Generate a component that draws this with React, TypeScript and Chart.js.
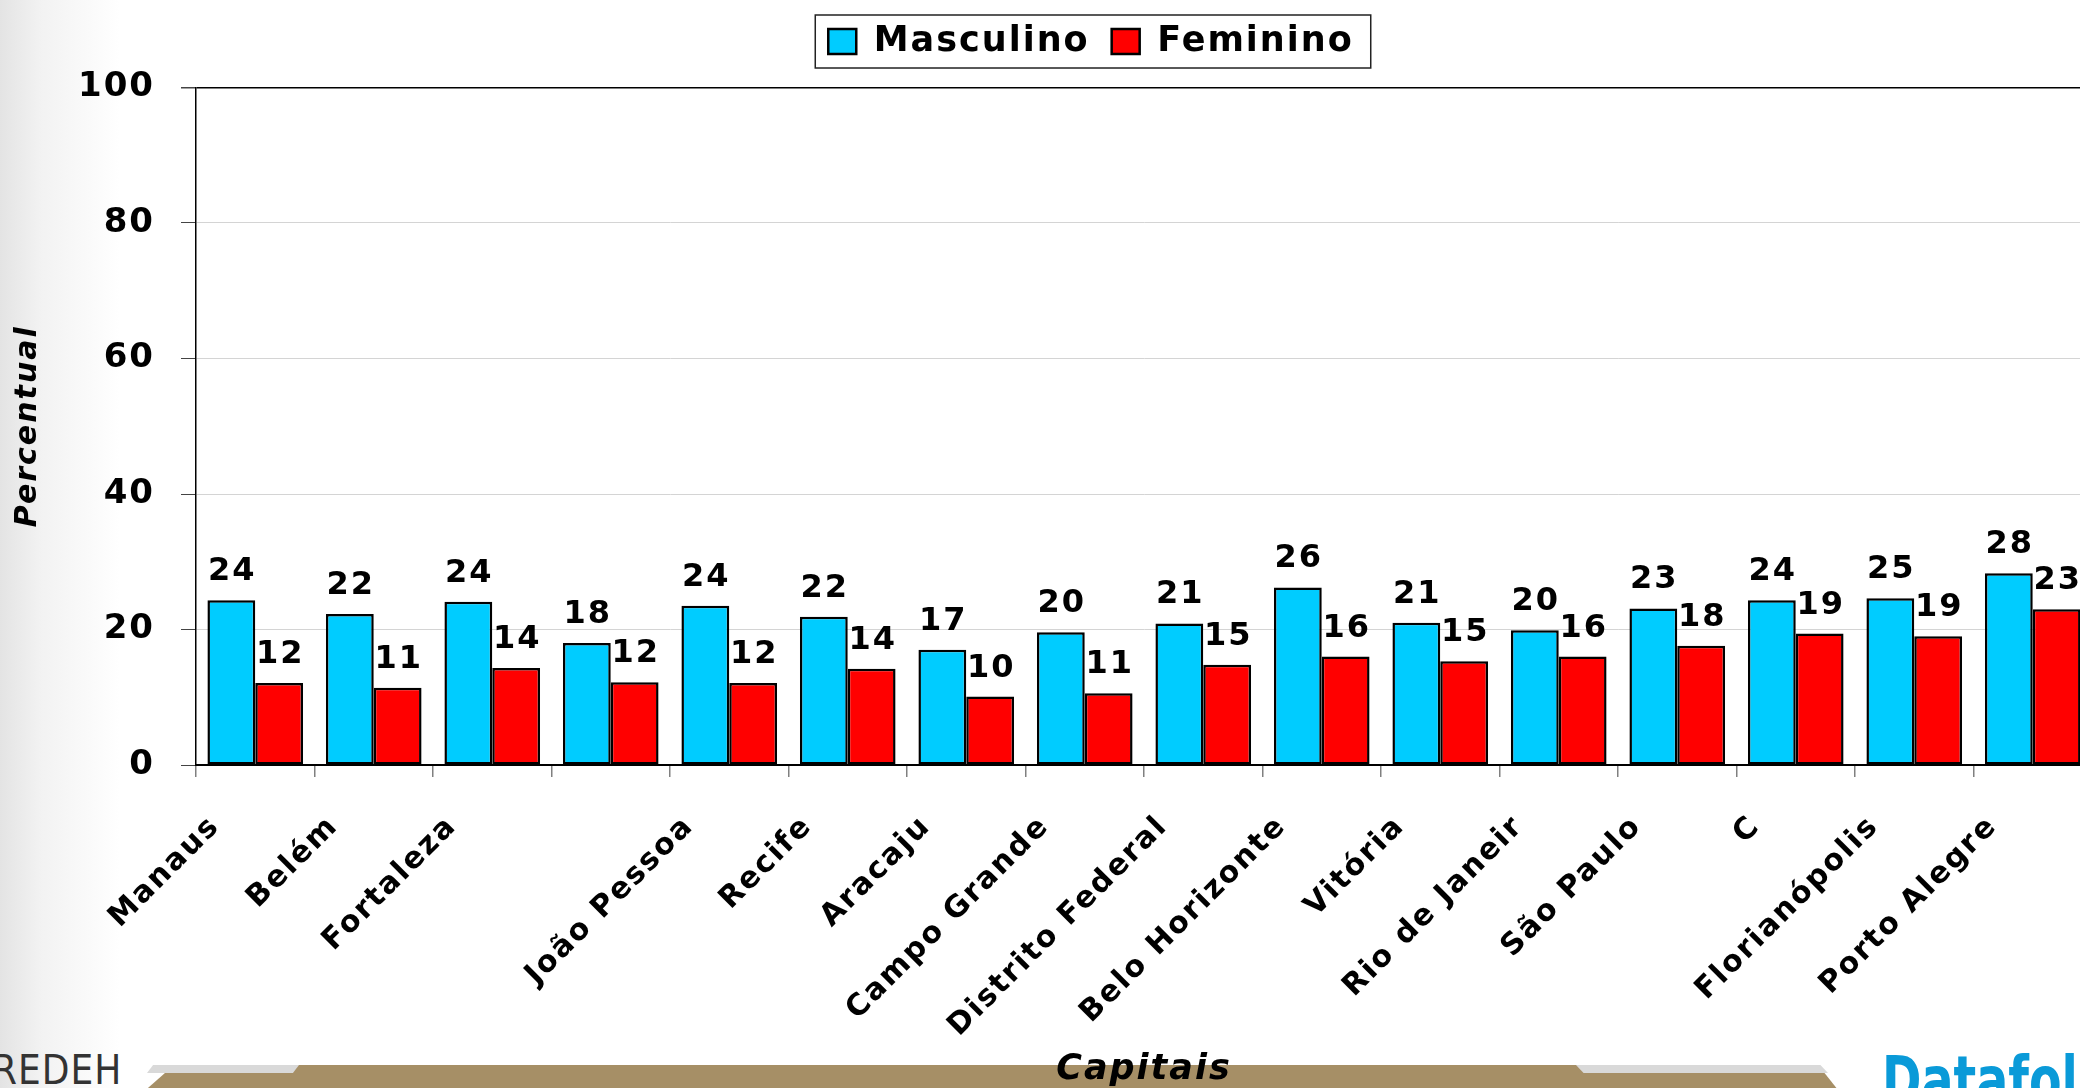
import React, { useEffect, useRef } from "react";
import { Chart, registerables } from "chart.js";

Chart.register(...registerables);

// ---- data ----
const categories = [
  "Manaus",
  "Belém",
  "Fortaleza",
  "",
  "João Pessoa",
  "Recife",
  "Aracaju",
  "Campo Grande",
  "Distrito Federal",
  "Belo Horizonte",
  "Vitória",
  "Rio de Janeir",
  "São Paulo",
  "C",
  "Florianópolis",
  "Porto Alegre",
];
const masculino = [24.3, 22.3, 24.1, 18.0, 23.5, 21.9, 17.0, 19.6, 20.9, 26.2, 21.0, 19.9, 23.1, 24.3, 24.6, 28.3];
const feminino = [12.1, 11.4, 14.3, 12.2, 12.1, 14.2, 10.1, 10.6, 14.8, 16.0, 15.3, 16.0, 17.6, 19.4, 19.0, 23.0];
const seriesNames = ["Masculino", "Feminino"];
const yMin = 0;
const yMax = 100;
const yStep = 20;
const yTitle = "Percentual";
const xTitle = "Capitais";

const FONT = '"DejaVu Sans", Verdana, sans-serif';
const CANVAS_W = 2110;
const CANVAS_H = 1092;

const spacingPlugin = {
  id: "spacing",
  beforeUpdate(chart: any) {
    chart.ctx.letterSpacing = "2px";
  },
  afterLayout(chart: any) {
    const lg = chart.legend;
    if (lg) {
      lg.left += 10;
      lg.right += 10;
    }
  },
  beforeDraw(chart: any) {
    chart.ctx.letterSpacing = "2px";
  },
};

const valueLabels = {
  id: "valueLabels",
  afterDatasetsDraw(chart: any) {
    const ctx = chart.ctx;
    ctx.save();
    ctx.letterSpacing = "2px";
    ctx.font = `bold 32px ${FONT}`;
    ctx.fillStyle = "#000";
    ctx.textAlign = "center";
    ctx.textBaseline = "alphabetic";
    chart.data.datasets.forEach((ds: any, i: number) => {
      const meta = chart.getDatasetMeta(i);
      meta.data.forEach((el: any, j: number) => {
        const v = ds.data[j] as number;
        ctx.fillText(String(Math.round(v)), el.x + 1, el.y - 20);
      });
    });
    ctx.restore();
  },
};

const legendBorder = {
  id: "legendBorder",
  afterDraw(chart: any) {
    const lg = chart.legend;
    if (!lg || !lg.legendHitBoxes || !lg.legendHitBoxes.length) return;
    const boxes = lg.legendHitBoxes;
    const minX = Math.min(...boxes.map((b: any) => b.left));
    const maxX = Math.max(...boxes.map((b: any) => b.left + b.width));
    const cy = boxes[0].top + boxes[0].height / 2;
    const ctx = chart.ctx;
    ctx.save();
    ctx.strokeStyle = "#222";
    ctx.lineWidth = 1.5;
    ctx.strokeRect(minX - 13, cy - 26.5, maxX - minX + 13 + 17, 53);
    ctx.restore();
  },
};

function BarChart() {
  const ref = useRef<HTMLCanvasElement | null>(null);
  useEffect(() => {
    if (!ref.current) return;
    const chart = new Chart(ref.current, {
      type: "bar",
      data: {
        labels: categories,
        datasets: [
          {
            label: seriesNames[0],
            data: masculino,
            backgroundColor: "#00CCFF",
            borderColor: "#000",
            borderWidth: 2.5,
            borderSkipped: false,
            categoryPercentage: 0.807,
            barPercentage: 1.0,
          },
          {
            label: seriesNames[1],
            data: feminino,
            backgroundColor: "#FF0000",
            borderColor: "#000",
            borderWidth: 2.5,
            borderSkipped: false,
            categoryPercentage: 0.807,
            barPercentage: 1.0,
          },
        ],
      },
      options: {
        responsive: false,
        maintainAspectRatio: false,
        devicePixelRatio: 1,
        animation: false,
        events: [],
        layout: { padding: { left: 70, right: 18, top: 2, bottom: 0 } },
        plugins: {
          tooltip: { enabled: false },
          legend: {
            display: true,
            position: "top",
            labels: {
              color: "#000",
              font: { family: FONT, size: 35, weight: "bold" },
              boxWidth: 28,
              boxHeight: 25,
              padding: 22,
            },
          },
          title: {
            display: true,
            text: " ",
            weight: 500,
            font: { size: 1, lineHeight: 1 },
            padding: { top: 0, bottom: 17.5 },
          } as any,
        },
        scales: {
          x: {
            offset: true,
            grid: {
              display: true,
              drawOnChartArea: false,
              drawTicks: true,
              tickLength: 12,
              tickColor: "#808080",
              offset: true,
              lineWidth: 1.5,
            },
            border: { display: true, color: "#000", width: 2 },
            ticks: {
              autoSkip: false,
              maxRotation: 45,
              minRotation: 45,
              labelOffset: -40,
              padding: 32,
              color: "#000",
              font: { family: FONT, size: 30, weight: "bold" },
            },
            title: {
              display: true,
              text: xTitle,
              color: "#000",
              font: { family: FONT, size: 35, weight: "bold", style: "italic" },
              padding: { top: 0, bottom: 1 },
            },
            afterFit: (s: any) => {
              s.height = CANVAS_H - 765;
            },
          },
          y: {
            min: yMin,
            max: yMax,
            ticks: {
              stepSize: yStep,
              color: "#000",
              padding: 26,
              font: { family: FONT, size: 34, weight: "bold" },
            },
            grid: {
              color: (c: any) =>
                c.tick && (c.tick.value === yMax || c.tick.value === yMin) ? "#000" : "#d4d4d4",
              lineWidth: (c: any) => (c.tick && c.tick.value === yMax ? 1.5 : 1),
              tickColor: "#444",
              tickLength: 15,
              drawTicks: true,
            },
            border: { display: true, color: "#000", width: 1.5 },
            title: {
              display: true,
              text: yTitle,
              color: "#000",
              font: { family: FONT, size: 30, weight: "bold", style: "italic" },
              padding: { top: -60, bottom: 0 },
            },
            afterFit: (s: any) => {
              s.width = 126;
            },
          },
        },
      } as any,
      plugins: [spacingPlugin, valueLabels, legendBorder],
    });
    return () => chart.destroy();
  }, []);

  return (
    <canvas
      ref={ref}
      width={CANVAS_W}
      height={CANVAS_H}
      style={{ position: "absolute", left: 0, top: 0, width: CANVAS_W, height: CANVAS_H }}
    />
  );
}

export default function App() {
  return (
    <div
      style={{
        position: "fixed",
        left: 0,
        top: 0,
        width: 2080,
        height: 1088,
        overflow: "hidden",
        background: "#fff",
      }}
    >
      {/* left curtain shading */}
      <div
        style={{
          position: "absolute",
          left: 0,
          top: 0,
          width: 120,
          height: 1088,
          background:
            "linear-gradient(to right, rgba(205,205,205,0.55) 0%, rgba(230,230,230,0.5) 35%, rgba(255,255,255,0) 100%)",
        }}
      />
      {/* bottom band */}
      <div
        style={{
          position: "absolute",
          left: 140,
          top: 1065,
          width: 1702,
          height: 30,
          background: "#a68f66",
          clipPath: "polygon(2% 0, 98.6% 0, 100% 100%, 0 100%)",
        }}
      />
      <div
        style={{
          position: "absolute",
          left: 147,
          top: 1065,
          width: 152,
          height: 8,
          background: "#d9d9d9",
          clipPath: "polygon(4% 0, 100% 0, 96% 100%, 0 100%)",
        }}
      />
      <div
        style={{
          position: "absolute",
          left: 1576,
          top: 1065,
          width: 252,
          height: 8,
          background: "#d9d9d9",
          clipPath: "polygon(0 0, 97% 0, 100% 100%, 3% 100%)",
        }}
      />
      <div
        style={{
          position: "absolute",
          left: -8,
          top: 1046,
          fontFamily: '"Liberation Sans Narrow", "DejaVu Sans Condensed", sans-serif',
          fontSize: 40,
          color: "#333",
          letterSpacing: 1,
          lineHeight: "48px",
        }}
      >
        REDEH
      </div>
      <div
        style={{
          position: "absolute",
          left: 1882,
          top: 1046,
          fontFamily: '"Liberation Sans Narrow", "DejaVu Sans Condensed", sans-serif',
          fontWeight: "bold",
          fontSize: 66,
          color: "#0a9ad8",
          lineHeight: "70px",
          transform: "scaleX(0.8)",
          transformOrigin: "left top",
          whiteSpace: "nowrap",
        }}
      >
        Datafolha
      </div>
      <BarChart />
    </div>
  );
}
